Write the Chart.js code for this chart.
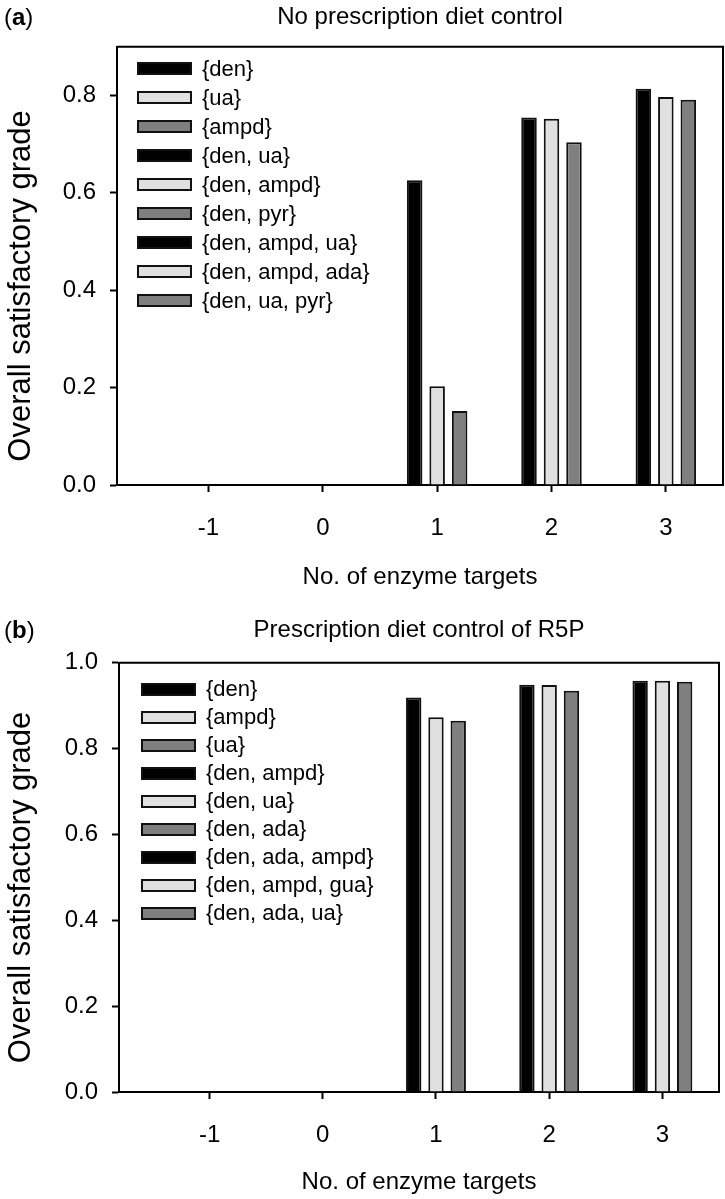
<!DOCTYPE html>
<html>
<head>
<meta charset="utf-8">
<script src="https://cdn.jsdelivr.net/npm/chart.js@4"></script>
<style>
  body { margin: 0; background: #fff; font-family: "Liberation Sans", Arial, sans-serif; color: #000; }
  .panel { position: absolute; left: 0; width: 725px; }
  #panelA { top: 0; height: 600px; }
  #panelB { top: 600px; height: 599px; }
  .tag { position: absolute; left: 4px; font-size: 24px; line-height: 28px; }
  .legend { position: absolute; font-size: 22px; }
  .legend .row { display: flex; align-items: center; white-space: nowrap; }
  .legend .sw { display: inline-block; width: 51px; height: 9px; border: 2px solid #111; margin-right: 10px; }
</style>
</head>
<body>
<div class="panel" id="panelA">
  <canvas id="chartA"></canvas>
  <div class="tag" style="top:3px">(<b>a</b>)</div>
  <div class="legend" id="legendA" style="left:137px; top:54px"></div>
</div>
<div class="panel" id="panelB">
  <canvas id="chartB"></canvas>
  <div class="tag" style="top:16px">(<b>b</b>)</div>
  <div class="legend" id="legendB" style="left:141px; top:75px"></div>
</div>
<script>
// x ticks and the positions that carry bars
const tickValues = [-1, 0, 1, 2, 3];
const targetCounts = [1, 2, 3];

// (a) no prescription diet control: 1st, 2nd and 3rd best set per target count
const gradeA1 = [0.626, 0.755, 0.814];
const gradeA2 = [0.203, 0.752, 0.797];
const gradeA3 = [0.152, 0.704, 0.791];
const legendA = ['{den}', '{ua}', '{ampd}', '{den, ua}', '{den, ampd}', '{den, pyr}',
  '{den, ampd, ua}', '{den, ampd, ada}', '{den, ua, pyr}'];

// (b) prescription diet control of R5P
const gradeB1 = [0.919, 0.949, 0.958];
const gradeB2 = [0.873, 0.948, 0.958];
const gradeB3 = [0.865, 0.935, 0.956];
const legendB = ['{den}', '{ampd}', '{ua}', '{den, ampd}', '{den, ua}', '{den, ada}',
  '{den, ada, ampd}', '{den, ampd, gua}', '{den, ada, ua}'];

const barColors = ['#000000', '#e0e0e0', '#7f7f7f'];
const fontFamily = '"Liberation Sans", Arial, sans-serif';

Chart.defaults.font.family = fontFamily;
Chart.defaults.color = '#000';

// top and right edges of the plot frame
const frameBox = {
  id: 'frameBox',
  afterDraw(chart) {
    const { ctx, chartArea: a } = chart;
    ctx.save();
    ctx.strokeStyle = '#000';
    ctx.lineWidth = 2;
    ctx.beginPath();
    ctx.moveTo(a.left, a.top);
    ctx.lineTo(a.right, a.top);
    ctx.lineTo(a.right, a.bottom);
    ctx.stroke();
    ctx.restore();
  }
};

// rotated y-axis title, sits a little below the middle of the plot like the original
const sideTitle = {
  id: 'sideTitle',
  afterDraw(chart, args, opts) {
    const { ctx, chartArea: a } = chart;
    ctx.save();
    ctx.translate(opts.x, (a.top + a.bottom) / 2 + opts.shift);
    ctx.rotate(-Math.PI / 2);
    ctx.font = opts.size + 'px ' + fontFamily;
    ctx.fillStyle = '#000';
    ctx.textAlign = 'center';
    ctx.textBaseline = 'middle';
    ctx.fillText(opts.text, 0, 0);
    ctx.restore();
  }
};

const buildLegend = (id, labels, rowHeight) => {
  const box = document.getElementById(id);
  labels.forEach((text, i) => {
    const row = document.createElement('div');
    row.className = 'row';
    row.style.height = rowHeight + 'px';
    const sw = document.createElement('span');
    sw.className = 'sw';
    sw.style.background = barColors[i % 3];
    row.appendChild(sw);
    row.appendChild(document.createTextNode(text));
    box.appendChild(row);
  });
};

const makeChart = (id, series, cfg) => {
  const axisGrid = { drawOnChartArea: false, drawTicks: true, tickLength: 7, tickColor: '#000', tickWidth: 2, offset: false };
  const axisBorder = { display: true, color: '#000', width: 2 };
  return new Chart(document.getElementById(id), {
    type: 'bar',
    data: {
      datasets: series.map((vals, i) => ({
        label: 'set ' + (i + 1),
        data: targetCounts.map((x, j) => ({ x: x, y: vals[j] })),
        backgroundColor: barColors[i],
        borderColor: '#111',
        borderWidth: 2,
        categoryPercentage: 0.59,
        barPercentage: 0.69
      }))
    },
    options: {
      responsive: true,
      maintainAspectRatio: false,
      animation: false,
      layout: { padding: { left: 0, right: cfg.padRight, top: 0, bottom: 0 } },
      plugins: {
        legend: { display: false },
        tooltip: { enabled: false },
        title: {
          display: true,
          text: cfg.title,
          fullSize: false,
          font: { size: 24, weight: 'normal' },
          padding: cfg.titlePad
        },
        sideTitle: { text: 'Overall satisfactory grade', size: 31, x: 21, shift: cfg.yTitleShift }
      },
      scales: {
        x: {
          type: 'linear',
          offset: false,
          min: -1.8,
          max: 3.5,
          afterFit: s => { s.height = cfg.xHeight; },
          afterBuildTicks: s => { s.ticks = tickValues.map(v => ({ value: v })); },
          ticks: { stepSize: 1, includeBounds: false, font: { size: 24 }, padding: 22 },
          grid: axisGrid,
          border: axisBorder,
          title: { display: true, text: 'No. of enzyme targets', font: { size: 24 }, padding: { top: 0, bottom: cfg.xTitlePad } }
        },
        y: {
          min: 0,
          max: cfg.yMax,
          afterFit: s => { s.width = cfg.yWidth; },
          ticks: { stepSize: 0.2, includeBounds: false, font: { size: 24 }, padding: 14, callback: v => v.toFixed(1) },
          grid: axisGrid,
          border: axisBorder
        }
      }
    },
    plugins: [frameBox, sideTitle]
  });
};

buildLegend('legendA', legendA, 29);
buildLegend('legendB', legendB, 28);

makeChart('chartA', [gradeA1, gradeA2, gradeA3], {
  title: 'No prescription diet control',
  titlePad: { top: 3, bottom: 15 },
  yMax: 0.9, yWidth: 117, xHeight: 115, xTitlePad: 8, padRight: 2, yTitleShift: 20
});

makeChart('chartB', [gradeB1, gradeB2, gradeB3], {
  title: 'Prescription diet control of R5P',
  titlePad: { top: 16, bottom: 18 },
  yMax: 1.0, yWidth: 119, xHeight: 107, xTitlePad: 2, padRight: 6, yTitleShift: 10
});
</script>
</body>
</html>
